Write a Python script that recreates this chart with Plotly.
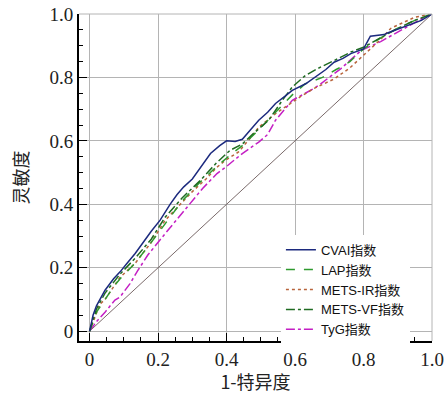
import plotly.graph_objects as go

# ---------------- data ----------------
series_names = ["CVAI指数", "LAP指数", "METS-IR指数", "METS-VF指数", "TyG指数"]

cvai_x = [0, 0.01, 0.02, 0.045, 0.07, 0.089, 0.11, 0.133, 0.16, 0.18, 0.206, 0.235, 0.255, 0.275, 0.30, 0.33, 0.353, 0.38, 0.40, 0.425, 0.446, 0.47, 0.494, 0.52, 0.543, 0.57, 0.592, 0.631, 0.666, 0.69, 0.714, 0.74, 0.763, 0.80, 0.82, 0.86, 0.87, 0.92, 0.969, 1.0]
cvai_y = [0, 0.05, 0.08, 0.129, 0.165, 0.187, 0.215, 0.245, 0.285, 0.315, 0.35, 0.40, 0.43, 0.455, 0.48, 0.525, 0.56, 0.585, 0.60, 0.598, 0.605, 0.635, 0.665, 0.69, 0.718, 0.74, 0.759, 0.78, 0.806, 0.825, 0.848, 0.86, 0.875, 0.89, 0.93, 0.935, 0.94, 0.96, 0.98, 1.0]

lap_x = [0, 0.02, 0.045, 0.07, 0.089, 0.11, 0.133, 0.18, 0.221, 0.27, 0.323, 0.372, 0.41, 0.446, 0.494, 0.543, 0.592, 0.63, 0.68, 0.72, 0.744, 0.76, 0.80, 0.85, 0.90, 0.95, 1.0]
lap_y = [0, 0.06, 0.10, 0.14, 0.165, 0.19, 0.215, 0.28, 0.34, 0.41, 0.47, 0.52, 0.555, 0.585, 0.635, 0.69, 0.745, 0.78, 0.80, 0.825, 0.838, 0.85, 0.89, 0.925, 0.955, 0.98, 1.0]

metsir_x = [0, 0.02, 0.03, 0.045, 0.07, 0.089, 0.133, 0.18, 0.221, 0.265, 0.30, 0.34, 0.372, 0.397, 0.435, 0.47, 0.494, 0.543, 0.592, 0.617, 0.655, 0.714, 0.76, 0.80, 0.85, 0.88, 0.95, 1.0]
metsir_y = [0, 0.06, 0.085, 0.10, 0.14, 0.17, 0.214, 0.28, 0.35, 0.40, 0.44, 0.48, 0.517, 0.539, 0.565, 0.61, 0.643, 0.686, 0.722, 0.74, 0.765, 0.795, 0.83, 0.87, 0.92, 0.955, 0.99, 1.0]

metsvf_x = [0, 0.02, 0.045, 0.07, 0.089, 0.133, 0.18, 0.221, 0.27, 0.323, 0.37, 0.41, 0.446, 0.475, 0.523, 0.563, 0.592, 0.63, 0.666, 0.714, 0.763, 0.80, 0.85, 0.90, 0.95, 1.0]
metsvf_y = [0, 0.07, 0.12, 0.155, 0.18, 0.23, 0.29, 0.36, 0.42, 0.475, 0.53, 0.57, 0.59, 0.62, 0.665, 0.728, 0.77, 0.806, 0.828, 0.853, 0.88, 0.895, 0.925, 0.955, 0.98, 1.0]

tyg_x = [0, 0.02, 0.045, 0.074, 0.089, 0.118, 0.14, 0.17, 0.221, 0.26, 0.294, 0.33, 0.372, 0.397, 0.446, 0.494, 0.52, 0.543, 0.592, 0.655, 0.675, 0.734, 0.793, 0.85, 0.92, 0.97, 1.0]
tyg_y = [0, 0.03, 0.06, 0.098, 0.108, 0.15, 0.19, 0.24, 0.308, 0.36, 0.403, 0.45, 0.497, 0.517, 0.56, 0.596, 0.62, 0.665, 0.728, 0.765, 0.78, 0.828, 0.885, 0.913, 0.955, 0.985, 1.0]

diag_x = [0, 1]
diag_y = [0, 1]

tick_vals = [0, 0.2, 0.4, 0.6, 0.8, 1.0]
tick_text = ["0", "0.2", "0.4", "0.6", "0.8", "1.0"]

x_title = "1-特异度"
y_title = "灵敏度"

# ---------------- styles ----------------
styles = [
    dict(color="#1c2a7e", dash="solid"),
    dict(color="#2f9a2f", dash="dash"),
    dict(color="#b8643c", dash="dot"),
    dict(color="#1f6b22", dash="dashdot"),
    dict(color="#c41fc4", dash="dashdot"),
]

fig = go.Figure()

fig.add_trace(go.Scatter(x=diag_x, y=diag_y, mode="lines",
                         line=dict(color="#7a6a6a", width=1),
                         showlegend=False, hoverinfo="skip"))

data = [(cvai_x, cvai_y), (lap_x, lap_y), (metsir_x, metsir_y),
        (metsvf_x, metsvf_y), (tyg_x, tyg_y)]

draw_order = [4, 2, 1, 3, 0]
for i in draw_order:
    xs, ys = data[i]
    fig.add_trace(go.Scatter(x=xs, y=ys, mode="lines", name=series_names[i],
                             line=dict(color=styles[i]["color"], dash=styles[i]["dash"], width=1.5),
                             legendrank=i + 1))

serif = "'Liberation Serif', 'Times New Roman', Times, serif"
cjk = "Noto Sans CJK SC"

axis_common = dict(
    tickmode="array", tickvals=tick_vals, ticktext=tick_text,
    ticks="inside", ticklen=8, tickwidth=1, tickcolor="black",
    tickfont=dict(family=serif, size=19, color="#222"),
    showgrid=True, gridcolor="#b4b4b4", gridwidth=1,
    zeroline=False, automargin=False,
    showline=True, linecolor="black", linewidth=2,
    minor=dict(dtick=0.05, tick0=0, ticks="inside", ticklen=4,
               tickcolor="black", showgrid=False),
)

fig.update_layout(
    width=444, height=394,
    margin=dict(l=79, r=12, t=14, b=53),
    plot_bgcolor="white", paper_bgcolor="white",
    xaxis=dict(range=[-0.031, 1.0], **axis_common,
               title=dict(text=x_title, font=dict(family=cjk, size=18, color="#222"), standoff=8)),
    yaxis=dict(range=[-0.031, 1.0], **axis_common,
               title=dict(text=y_title, font=dict(family=cjk, size=18, color="#222"), standoff=16)),
    legend=dict(x=0.572, y=0.325, xanchor="left", yanchor="top",
                bgcolor="white", borderwidth=0, itemwidth=30,
                tracegroupgap=0,
                font=dict(family="Liberation Sans, Noto Sans CJK SC", size=13, color="#111")),
    showlegend=True,
)

fig.add_shape(type="line", xref="paper", yref="paper", x0=1, x1=1, y0=0, y1=1,
              line=dict(color="#b4b4b4", width=1))
fig.add_shape(type="line", xref="paper", yref="paper", x0=0, x1=1, y0=1, y1=1,
              line=dict(color="#b4b4b4", width=1))

fig.write_html("out.html", config={"displayModeBar": False},
               post_script="document.body.style.margin='0';")
